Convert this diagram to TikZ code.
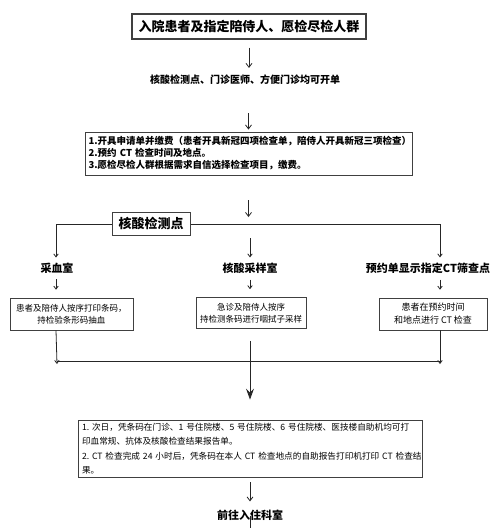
\documentclass[tikz,border=0pt]{standalone}
\usepackage{fontspec}
\setmainfont{Noto Sans CJK SC}
\usetikzlibrary{arrows.meta}
\begin{document}
\begin{tikzpicture}[x=1pt,y=-1pt,
  box/.style={draw=black!75,line width=0.9pt,fill=white,inner sep=0pt},
  lbl/.style={inner sep=0pt,font=\fontsize{11}{13}\selectfont\bfseries},
  small/.style={font=\fontsize{8.5}{12}\selectfont,align=center},
  ln/.style={draw=black!85,line width=0.8pt},
  arr/.style={ln,-{Straight Barb[length=4pt,width=6pt]}},
  sarr/.style={ln,-{Straight Barb[length=3pt,width=4.5pt]}}]
\useasboundingbox (0,0) rectangle (500,528);

% top
\node[box,line width=1.1pt,minimum width=234pt,minimum height=25pt,font=\fontsize{13}{15}\selectfont\bfseries] (top) at (249,26.5) {入院患者及指定陪侍人、愿检尽检人群};
\node[lbl,font=\fontsize{10}{12}\selectfont\bfseries] (t2) at (245,80) {核酸检测点、门诊医师、方便门诊均可开单};

\node[box,minimum width=327pt,minimum height=43pt,text width=320pt,align=left,
  font=\fontsize{9.5}{12}\selectfont\bfseries] (b0) at (248.5,153.5)
  {\mbox{1.开具申请单并缴费（患者开具新冠四项检查单，陪侍人开具新冠三项检查）}\\
   2.预约 CT 检查时间及地点。\\
   3.愿检尽检人群根据需求自信选择检查项目，缴费。};

\draw[arr,shorten <=8pt,shorten >=7pt] (top.south) -- (top.south |- t2.north);
\draw[arr,shorten <=28pt,shorten >=2pt] (t2.south -| b0.north) -- (b0.north);

% branch line
\coordinate (hm) at (250,224);
\coordinate (L) at (56,224);
\coordinate (R) at (440,224);
\draw[arr,shorten <=25pt,shorten >=7pt] (b0.south) -- (b0.south |- hm);
\draw[ln] (L) -- (R);
\node[box,minimum width=78pt,minimum height=23pt,font=\fontsize{13}{15}\selectfont\bfseries] (hub) at (151,223.5) {核酸检测点};

\node[lbl] (l1) at (57,268) {采血室};
\node[lbl] (l2) at (250,268) {核酸采样室};
\node[lbl] (l3) at (428,268) {预约单显示指定CT筛查点};

\draw[sarr,shorten >=5pt] (L) -- (L |- l1.north);
\draw[sarr,shorten <=14pt,shorten >=5pt] (hm) -- (l2.north);
\draw[sarr,shorten >=5pt] (R) -- (R |- l3.north);

\node[box,line width=0.6pt,minimum width=123pt,minimum height=32pt,small] (b1) at (71.5,314)
  {患者及陪侍人按序打印条码，\\持检验条形码抽血};
\node[box,line width=0.6pt,minimum width=110pt,minimum height=31pt,small] (b2) at (251,313)
  {急诊及陪侍人按序\\持检测条码进行咽拭子采样};
\node[box,line width=0.6pt,minimum width=108pt,minimum height=32pt,small,font=\fontsize{9}{13}\selectfont] (b3) at (433,314)
  {患者在预约时间\\和地点进行 CT 检查};

\draw[sarr,shorten <=6pt,shorten >=8pt] (L |- l1.south) -- (L |- b1.north);
\draw[sarr,shorten <=6pt,shorten >=8pt] (l2.south) -- (l2 |- b2.north);
\draw[sarr,shorten <=6pt,shorten >=8pt] (R |- l3.south) -- (R |- b3.north);

% merge
\coordinate (BL) at (57,364);
\coordinate (BR) at (440,364);
\draw[ln] (57,361.5) -- (440,361.5);
\draw[sarr] (L |- b1.south) -- (BL);
\draw[sarr] (R |- b3.south) -- (BR);

\node[box,minimum width=344pt,minimum height=57pt,text width=336pt,align=left,
  font=\fontsize{8.65}{14.5}\selectfont] (b4) at (250,448.5)
  {\mbox{1.\ 次日，凭条码在门诊、1 号住院楼、5 号住院楼、6 号住院楼、医技楼自助机均可打}\\
   印血常规、抗体及核酸检查结果报告单。\\
   \mbox{2.\ CT 检查完成 24 小时后，凭条码在本人 CT 检查地点的自助报告打印机打印 CT 检查结}\\
   果。};

\draw[ln,-{Stealth[length=11pt,width=8pt,inset=4pt]},shorten <=12pt,shorten >=20pt] (b4.north |- b2.south) -- (b4.north);

\node[lbl] (fin) at (250,515) {前往入住科室};
\draw[arr,shorten <=5pt,shorten >=8pt] (b4.south) -- (fin.north);
\coordinate (end) at (250,528);
\draw[ln] ([yshift=5pt]fin.south) -- (end);
\end{tikzpicture}
\end{document}
